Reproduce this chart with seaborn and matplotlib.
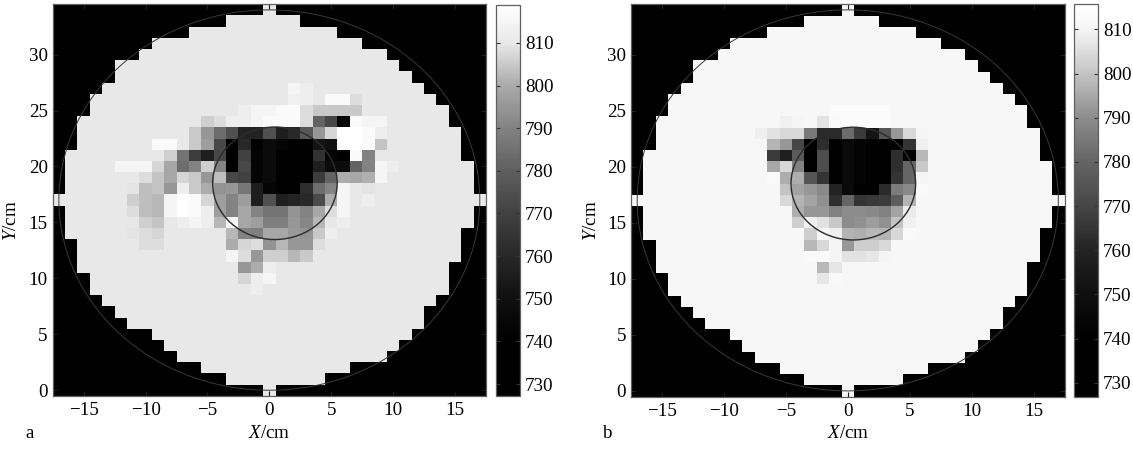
import numpy as np
import matplotlib
matplotlib.use("Agg")
import matplotlib.pyplot as plt
from matplotlib.colors import LinearSegmentedColormap
from matplotlib.patches import Circle
import seaborn as sns

plt.rcParams['font.family'] = ['Liberation Serif', 'DejaVu Serif']
plt.rcParams['mathtext.fontset'] = 'custom'
plt.rcParams['mathtext.rm'] = 'Liberation Serif'
plt.rcParams['mathtext.it'] = 'Liberation Serif:italic'

# Row half-widths of the sensor disc, for Y = 0 .. 34 (cells left and right of X = 0)
half_left = [0, 3, 5, 7, 8, 9, 11, 12, 13, 14, 14, 15, 15, 15, 16, 16, 16, 17,
             16, 16, 16, 16, 15, 15, 15, 14, 14, 13, 12, 12, 10, 9, 6, 3, 0]
half_right = [0, 4, 6, 9, 10, 11, 12, 12, 13, 14, 14, 14, 15, 15, 15, 16, 16, 17,
              16, 16, 16, 15, 15, 15, 14, 14, 13, 12, 11, 10, 9, 7, 5, 2, 0]
outside_value = 730
background_a = 810
background_b = 811
first_x = -12   # the row lists below run from X = -12 to X = 11

# Panel a
a_y9 = [810]*11 + [812] + [810]*12
a_y10 = [810]*10 + [807, 812, 815] + [810]*11
a_y11 = [810]*10 + [795, 800, 812, 810, 810] + [810]*9
a_y12 = [810]*9 + [815, 808, 795, 806, 806, 802, 805] + [810]*8
a_y13 = [810, 810, 808, 808, 810, 810, 810, 810, 810, 800, 807, 808, 794, 802, 795, 795, 808] + [810]*7
a_y14 = [810, 809, 808, 807, 810, 810, 810, 810, 810, 802, 790, 789, 799, 799, 796, 794, 805, 812] + [810]*6
a_y15 = [810, 810, 806, 804, 810, 812, 815, 812, 802, 815, 799, 797, 789, 789, 795, 791, 802, 810, 812] + [810]*5
a_y16 = [810, 808, 803, 802, 815, 819, 817, 812, 797, 790, 799, 790, 786, 786, 794, 790, 799, 808, 815] + [810]*5
a_y17 = [810, 806, 803, 802, 815, 819, 817, 807, 797, 790, 797, 756, 775, 756, 758, 760, 773, 800, 815, 810, 812, 810, 810, 810]
a_y18 = [810, 809, 803, 804, 795, 812, 805, 800, 794, 795, 787, 756, 743, 735, 735, 762, 784, 790, 815, 810, 809, 810, 810, 810]
a_y19 = [810, 810, 808, 804, 799, 807, 805, 795, 803, 772, 770, 743, 747, 735, 735, 735, 768, 781, 800, 799, 801, 815, 810, 810]
a_y20 = [815, 815, 815, 807, 799, 784, 790, 806, 790, 735, 772, 743, 747, 735, 735, 735, 756, 747, 747, 781, 790, 815, 812, 810]
a_y21 = [810]*4 + [806, 786, 768, 756, 772, 735, 770, 743, 747, 735, 735, 735, 764, 743, 735, 817, 790, 810] + [810]*2
a_y22 = [810]*3 + [817, 817, 810, 805, 797, 772, 735, 760, 735, 747, 743, 735, 735, 752, 750, 819, 819, 817, 804] + [810]*2
a_y23 = [810]*6 + [805, 795, 784, 775, 758, 758, 775, 756, 760, 778, 795, 807, 819, 819, 817, 812] + [810]*2
a_y24 = [810]*7 + [806, 808, 812, 812, 815, 817, 817, 817, 808, 781, 772, 743, 817, 815, 815] + [810]*2
a_y25 = [810]*10 + [812, 815, 815, 817, 817, 808, 805, 805, 805, 805] + [810]*4
a_y26 = [810]*14 + [813, 812, 810, 817, 817, 808] + [810]*4
a_y27 = [810]*14 + [815, 812] + [810]*8
a_rows = [a_y9, a_y10, a_y11, a_y12, a_y13, a_y14, a_y15, a_y16, a_y17, a_y18,
          a_y19, a_y20, a_y21, a_y22, a_y23, a_y24, a_y25, a_y26, a_y27]
a_first_row = 9

# Panel b
b_y10 = [811]*10 + [807, 812] + [811]*12
b_y11 = [811]*10 + [798, 807] + [811]*12
b_y12 = [811]*9 + [812, 812, 810, 806, 806, 807, 810] + [811]*8
b_y13 = [811]*9 + [798, 804, 810, 792, 802, 802, 804] + [811]*8
b_y14 = [811]*9 + [802, 810, 809, 797, 796, 798, 797, 804, 812] + [811]*6
b_y15 = [811]*8 + [802, 809, 806, 801, 790, 791, 793, 791, 800, 809] + [811]*6
b_y16 = [811]*8 + [796, 792, 792, 787, 790, 790, 789, 787, 794, 808] + [811]*6
b_y17 = [811]*7 + [804, 797, 794, 791, 763, 780, 765, 766, 767, 778, 797] + [811]*6
b_y18 = [811]*7 + [800, 794, 792, 789, 760, 747, 735, 735, 762, 786, 789, 812] + [811]*5
b_y19 = [811]*6 + [812, 796, 796, 775, 765, 735, 747, 743, 735, 735, 765, 780, 810] + [811]*5
b_y20 = [811]*6 + [795, 804, 787, 735, 772, 735, 747, 743, 735, 735, 763, 780, 801] + [811]*5
b_y21 = [811]*6 + [767, 758, 777, 735, 772, 735, 747, 743, 735, 735, 763, 735, 798] + [811]*5
b_y22 = [811]*6 + [797, 792, 770, 735, 763, 735, 747, 743, 735, 735, 735, 765, 809] + [811]*5
b_y23 = [811]*5 + [809, 806, 804, 804, 785, 762, 762, 782, 767, 753, 775, 792, 804, 810] + [811]*5
b_y24 = [811]*7 + [809, 810, 811, 806, 812, 813, 813, 813, 813] + [811]*8
b_y25 = [811]*11 + [813, 813, 813, 813, 813] + [811]*8
b_rows = [b_y10, b_y11, b_y12, b_y13, b_y14, b_y15, b_y16, b_y17, b_y18, b_y19,
          b_y20, b_y21, b_y22, b_y23, b_y24, b_y25]
b_first_row = 10

# Colour scales (value, grey level)
a_levels = [727.2, 740, 750, 760, 770, 780, 790, 800, 810, 819]
a_greys = [0, 0, 15, 40, 65, 95, 130, 170, 232, 255]
b_levels = [726.9, 740, 750, 760, 770, 780, 790, 800, 810, 815.7]
b_greys = [0, 0, 15, 35, 70, 100, 140, 195, 245, 255]

x_ticks = [-15, -10, -5, 0, 5, 10, 15]
y_ticks = [0, 5, 10, 15, 20, 25, 30]
cbar_ticks = [730, 740, 750, 760, 770, 780, 790, 800, 810]
outer_circle = (0, 17, 17)
inner_circle = (0.45, 18.5, 5.03)

W, H = 1133, 453
FS = 13.7


def make_grid(rows, first_row, background):
    grid = np.full((35, 35), float(outside_value))
    for r in range(35):
        for x in range(-half_left[r], half_right[r] + 1):
            grid[r, x + 17] = background
    for i, row in enumerate(rows):
        r = first_row + i
        for j, v in enumerate(row):
            x = first_x + j
            if -half_left[r] <= x <= half_right[r]:
                grid[r, x + 17] = v
    return grid


def make_cmap(levels, greys):
    lo, hi = levels[0], levels[-1]
    nodes = [((v - lo) / (hi - lo), (g / 255,) * 3) for v, g in zip(levels, greys)]
    return LinearSegmentedColormap.from_list('g', nodes, N=256)


def box(l, t, r, b):
    return [l / W, 1 - b / H, (r - l) / W, (b - t) / H]


def panel(fig, rows, first_row, background, levels, greys, axbox, cbox, letter, letter_x, ylabel_x):
    ax = fig.add_axes(box(*axbox))
    cax = fig.add_axes(box(*cbox))
    grid = make_grid(rows, first_row, background)
    sns.heatmap(grid, ax=ax, cbar_ax=cax, cmap=make_cmap(levels, greys),
                vmin=levels[0], vmax=levels[-1], xticklabels=False, yticklabels=False,
                cbar_kws={'ticks': cbar_ticks})
    ax.invert_yaxis()
    ax.set_xticks([x + 17.5 for x in x_ticks],
                  [str(x).replace('-', '\u2212') for x in x_ticks])
    ax.set_yticks([y + 0.5 for y in y_ticks], [str(y) for y in y_ticks], rotation=0)
    ax.tick_params(axis='both', direction='in', length=3.5, width=0.8, color='#1c1c1c',
                   labelsize=FS, top=True, right=True, bottom=True, left=True)
    ax.tick_params(axis='x', pad=4.5)
    ax.tick_params(axis='y', pad=3.5)
    for s in ax.spines.values():
        s.set_visible(True)
        s.set_color('#606060')
        s.set_linewidth(0.9)
    cx, cy, rad = outer_circle
    ax.add_patch(Circle((cx + 17.5, cy + 0.5), rad, fill=False, ec='#383838', lw=0.7))
    cx, cy, rad = inner_circle
    ax.add_patch(Circle((cx + 17.5, cy + 0.5), rad, fill=False, ec='#2c2c2c', lw=1.0))
    # labels
    xmid = (axbox[0] + axbox[2]) / 2
    fig.text(xmid / W, 1 - 434 / H, r'$\mathit{X}$/cm', fontsize=FS, ha='center', va='center')
    fig.text(ylabel_x / W, 1 - 221 / H, r'$\mathit{Y}$/cm', fontsize=FS, rotation=90,
             ha='center', va='center')
    fig.text(letter_x / W, 1 - 433 / H, letter, fontsize=FS, ha='center', va='center')
    # colour bar
    cax.tick_params(axis='y', direction='in', length=3, width=0.8, color='#333333',
                    left=True, right=True, labelsize=FS, pad=3.5)
    cb = ax.collections[0].colorbar
    cb.outline.set_visible(True)
    cb.outline.set_edgecolor('#606060')
    cb.outline.set_linewidth(0.9)
    return ax


fig = plt.figure(figsize=(W / 100, H / 100), dpi=100, facecolor='white')
panel(fig, a_rows, a_first_row, background_a, a_levels, a_greys,
      (52.7, 4.3, 486, 395.8), (496, 4.5, 520, 396), 'a', 30, 12)
panel(fig, b_rows, b_first_row, background_b, b_levels, b_greys,
      (631, 4.3, 1064.5, 396.5), (1074.3, 4.3, 1098, 396.5), 'b', 607, 592)
fig.savefig('out.png', dpi=100)
